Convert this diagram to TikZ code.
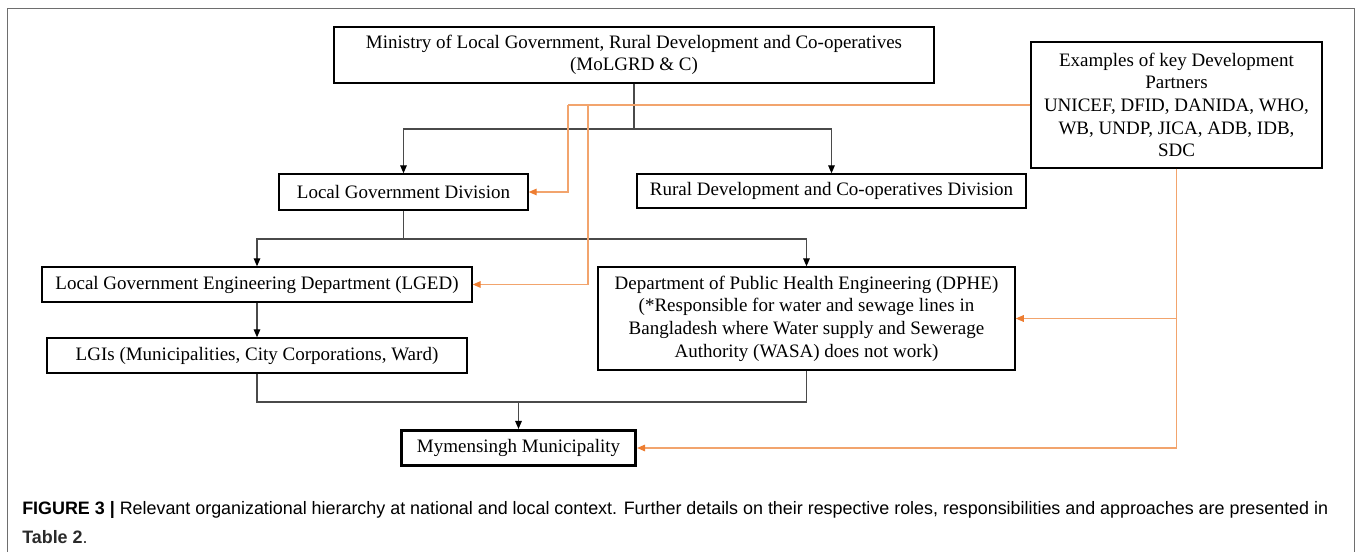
\documentclass[tikz,border=0pt]{standalone}
\usepackage{graphicx}
\usepackage{fontspec}
\setmainfont{Liberation Serif}
\setsansfont{Liberation Sans}
\usetikzlibrary{arrows.meta}
\definecolor{orng}{HTML}{ED7D31}
\definecolor{orngline}{HTML}{F2A46D}
\definecolor{connc}{HTML}{4A4A4A}
\definecolor{framec}{HTML}{6E6E6E}
\definecolor{captxt}{HTML}{2B2B2B}
\newsavebox\capbox
\begin{document}
\sbox\capbox{\sffamily\fontsize{13.5pt}{16pt}\selectfont\textbf{FIGURE 3 |} Relevant organizational hierarchy at national and local context. Further details on their respective roles, responsibilities and approaches are presented in}%
\pgfmathsetmacro\capscale{979.5/\the\wd\capbox}%
\begin{tikzpicture}[x=0.75pt,y=-0.75pt,
  box/.style={draw=black,line width=1.1pt,inner sep=0pt,align=center,font=\fontsize{14.25pt}{17pt}\selectfont},
  conn/.style={draw=connc,line width=0.8pt,-{Triangle[length=6pt,width=5pt,color=black]}},
  link/.style={draw=connc,line width=0.8pt},
  oarr/.style={draw=orngline,line width=0.8pt,-{Triangle[length=6pt,width=5pt,color=orng]}},
  olink/.style={draw=orngline,line width=0.8pt},
  captext/.style={anchor=west,inner sep=0pt,text=captxt}
]
\useasboundingbox (0,0) rectangle (1358,552);
\draw[framec,line width=1.1pt] (7.5,600) -- (7.5,8.5) -- (1354.5,8.5) -- (1354.5,600);

\node[box,minimum width=450pt,minimum height=42pt] (min) at (634,55)
  {Ministry of Local Government, Rural Development and Co-operatives\\(MoLGRD \& C)};
\node[box,minimum width=218.25pt,minimum height=94.5pt] (dp) at (1176.5,105)
  {Examples of key Development\\Partners\\UNICEF, DFID, DANIDA, WHO,\\WB, UNDP, JICA, ADB, IDB,\\SDC};
\node[box,minimum width=186.75pt,minimum height=27pt] (lgd) at (403.5,192) {Local Government Division};
\node[box,minimum width=291.75pt,minimum height=25.5pt] (rural) at (831.5,191) {Rural Development and Co-operatives Division};
\node[box,minimum width=322.5pt,minimum height=26.25pt] (lged) at (257,284.5) {Local Government Engineering Department (LGED)};
\node[box,minimum width=312.75pt,minimum height=77.25pt] (dphe) at (806.5,318.5)
  {Department of Public Health Engineering (DPHE)\\(*Responsible for water and sewage lines in\\Bangladesh where Water supply and Sewerage\\Authority (WASA) does not work)};
\node[box,minimum width=315pt,minimum height=26.25pt] (lgis) at (257,355.5) {LGIs (Municipalities, City Corporations, Ward)};
\node[box,line width=2.4pt,minimum width=175.5pt,minimum height=26.25pt] (mym) at (518.5,448) {Mymensingh Municipality};

% black hierarchy
\coordinate (j1) at (min.south |- 0,129);
\draw[link] (min.south) -- (j1);
\draw[conn] (j1) -| (lgd.north);
\draw[conn] (j1) -| (rural.north);
\coordinate (j2) at (lgd.south |- 0,239);
\draw[link] (lgd.south) -- (j2);
\draw[conn] (j2) -| (lged.north);
\draw[conn] (j2) -| (dphe.north);
\draw[conn] (lged.south) -- (lgis.north);
\coordinate (j3) at (mym.north |- 0,402);
\draw[link] (lgis.south) |- (j3);
\draw[link] (dphe.south) |- (j3);
\draw[conn] (j3) -- (mym.north);

% orange development partner links
\coordinate (o1) at (568,0 |- dp.west);
\coordinate (o2) at (588,0 |- dp.west);
\draw[olink] (dp.west) -- (o1);
\draw[oarr] (o1) |- (lgd.east);
\draw[oarr] (o2) |- (lged.east);
\coordinate (o3) at (dp.south |- dphe.east);
\draw[oarr] (dp.south) |- (mym.east);
\draw[oarr] (o3) -- (dphe.east);

% caption
\node[captext] (c1) at (22,510) {\scalebox{\capscale}[1]{\usebox\capbox}};
\node[captext] (c2) at (22,537) {\scalebox{\capscale}[1]{\sffamily\fontsize{13.5pt}{16pt}\selectfont\textbf{Table 2}.}};
\end{tikzpicture}
\end{document}
